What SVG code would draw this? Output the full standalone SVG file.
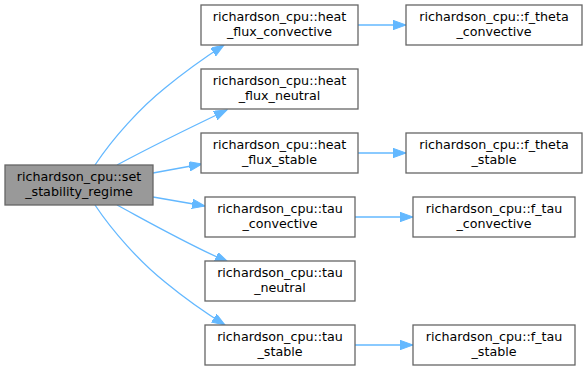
<svg xmlns="http://www.w3.org/2000/svg" width="587" height="371" viewBox="0 0 587 371">
<style>
.n rect{fill:#ffffff;stroke:#666666;stroke-width:1.3}
.n.main rect{fill:#999999}
.n text{font-family:"DejaVu Sans","Liberation Sans",sans-serif;font-size:12.7px;fill:#000000;text-anchor:middle}
.e path{fill:none;stroke:#63b8ff;stroke-width:1.3;marker-end:url(#ah)}
</style>
<defs>
<marker id="ah" markerUnits="userSpaceOnUse" markerWidth="14" markerHeight="10" refX="13" refY="4.7" orient="auto">
<path d="M0,0 L13,4.7 L0,9.4 z" fill="#63b8ff" stroke="#63b8ff" stroke-width="1"/>
</marker>
</defs>
<g id="edges" class="e">
<path d="M95,165 C113,138 140,108 165,88 C182,74 201,60 224,45"/>
<path d="M117,165 C145,150 185,130 227,110"/>
<path d="M153,173 L202,164"/>
<path d="M153,197 L205,206"/>
<path d="M117,205 C145,220 185,243 228,262"/>
<path d="M95,205 C113,232 140,262 165,282 C182,296 201,310 225,325"/>
<path d="M358,25 L406,25"/>
<path d="M358,153 L406,153"/>
<path d="M355,217 L413,217"/>
<path d="M355,345 L413,345"/>
</g>
<g id="set_stability_regime" class="n main"><rect x="5" y="165" width="148" height="40"/><text x="79" y="180.5">richardson_cpu::set</text><text x="79" y="195.5">_stability_regime</text></g>
<g id="heat_flux_convective" class="n"><rect x="201" y="5" width="157" height="40"/><text x="279.5" y="20.5">richardson_cpu::heat</text><text x="279.5" y="35.5">_flux_convective</text></g>
<g id="heat_flux_neutral" class="n"><rect x="201" y="69" width="157" height="40"/><text x="279.5" y="84.5">richardson_cpu::heat</text><text x="279.5" y="99.5">_flux_neutral</text></g>
<g id="heat_flux_stable" class="n"><rect x="201" y="133" width="157" height="40"/><text x="279.5" y="148.5">richardson_cpu::heat</text><text x="279.5" y="163.5">_flux_stable</text></g>
<g id="tau_convective" class="n"><rect x="205" y="197" width="150" height="40"/><text x="280" y="212.5">richardson_cpu::tau</text><text x="280" y="227.5">_convective</text></g>
<g id="tau_neutral" class="n"><rect x="205" y="261" width="150" height="40"/><text x="280" y="276.5">richardson_cpu::tau</text><text x="280" y="291.5">_neutral</text></g>
<g id="tau_stable" class="n"><rect x="205" y="325" width="150" height="40"/><text x="280" y="340.5">richardson_cpu::tau</text><text x="280" y="355.5">_stable</text></g>
<g id="f_theta_convective" class="n"><rect x="406" y="5" width="176" height="40"/><text x="494" y="20.5">richardson_cpu::f_theta</text><text x="494" y="35.5">_convective</text></g>
<g id="f_theta_stable" class="n"><rect x="406" y="133" width="176" height="40"/><text x="494" y="148.5">richardson_cpu::f_theta</text><text x="494" y="163.5">_stable</text></g>
<g id="f_tau_convective" class="n"><rect x="413" y="197" width="162" height="40"/><text x="494" y="212.5">richardson_cpu::f_tau</text><text x="494" y="227.5">_convective</text></g>
<g id="f_tau_stable" class="n"><rect x="413" y="325" width="162" height="40"/><text x="494" y="340.5">richardson_cpu::f_tau</text><text x="494" y="355.5">_stable</text></g>
</svg>
